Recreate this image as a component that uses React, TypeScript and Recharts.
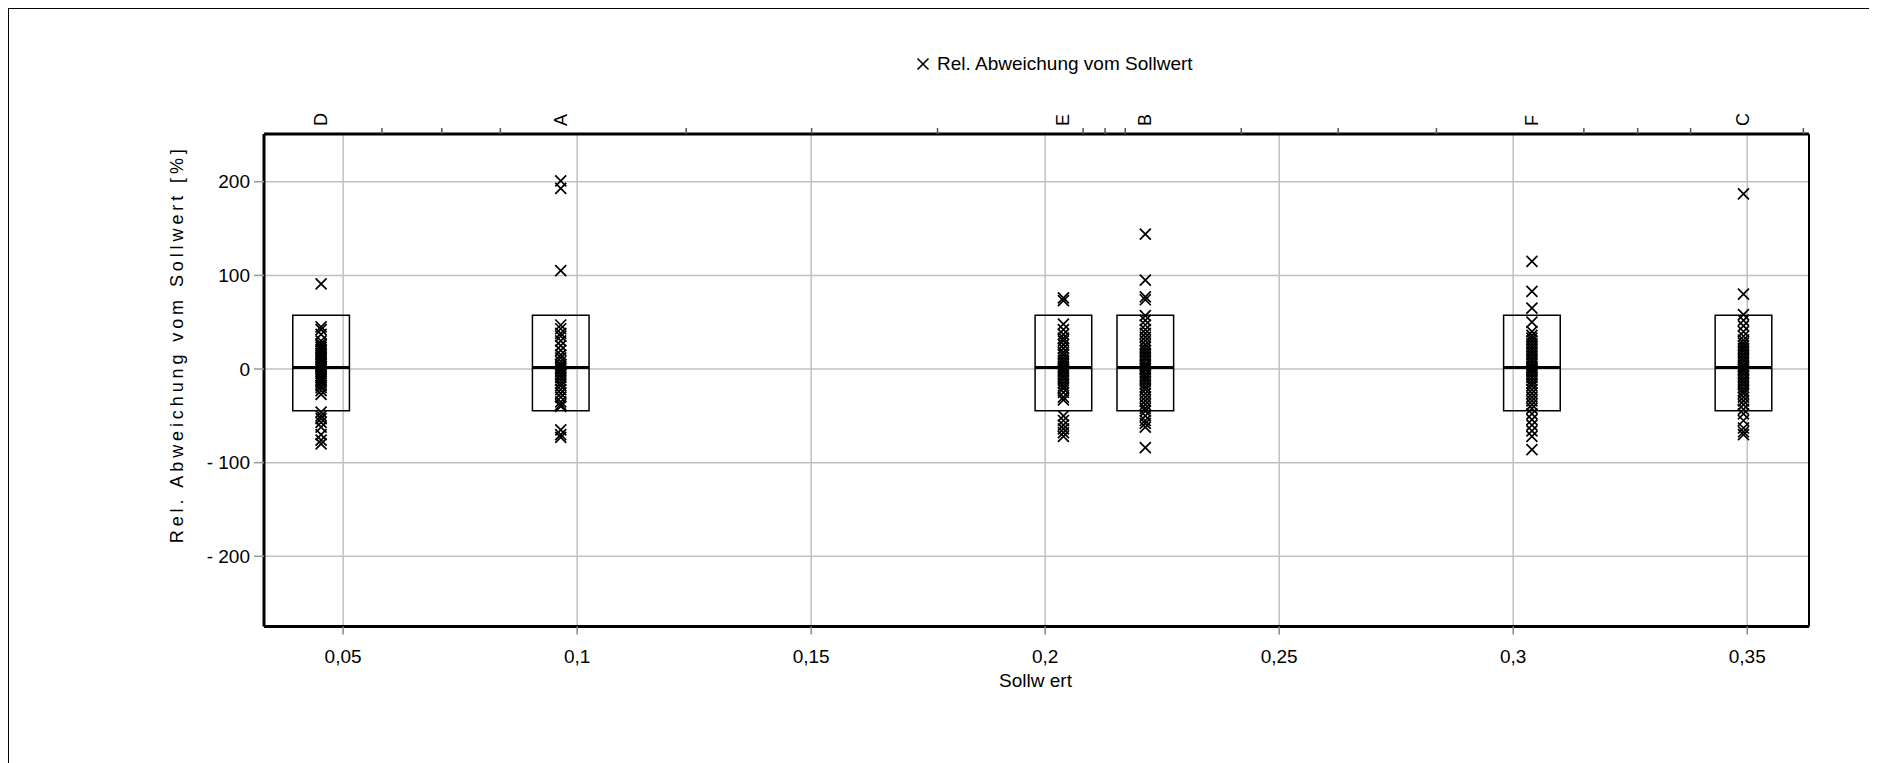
import React from "react";
import {
  ScatterChart,
  Scatter,
  XAxis,
  YAxis,
  CartesianGrid,
  ReferenceArea,
  ReferenceLine,
  Legend,
} from "recharts";

// Categories (samples) and their target values (Sollwert)
const categories = ["D", "A", "E", "B", "F", "C"];
const sollwerte = [0.0453, 0.0965, 0.2039, 0.2214, 0.304, 0.3492];

// Relative deviations [%] per sample
const devD = [91, 45, 42, 37, 30, 27, 25, 23, 21, 19, 17, 15, 13, 12, 10, 8, 6, 5, 3, 2, 0, -1, -3, -5, -7, -9, -11, -13, -15, -18, -20, -23, -27, -46, -50, -53, -57, -62, -70, -76, -80];
const devA = [201, 193, 105, 47, 43, 38, 35, 30, 25, 20, 15, 12, 8, 5, 3, 1, -1, -3, -6, -9, -12, -15, -18, -22, -26, -30, -35, -38, -40, -65, -70, -73];
const devE = [76, 73, 48, 42, 37, 33, 30, 26, 22, 18, 15, 12, 9, 6, 3, 1, -1, -3, -6, -9, -12, -15, -18, -21, -25, -30, -33, -50, -55, -60, -64, -68, -72];
const devB = [144, 95, 77, 74, 57, 52, 47, 42, 38, 34, 30, 26, 23, 20, 17, 14, 11, 8, 5, 3, 1, -1, -4, -7, -10, -13, -16, -19, -22, -26, -30, -34, -38, -42, -45, -50, -55, -58, -62, -84];
const devF = [115, 83, 65, 50, 40, 36, 33, 30, 27, 24, 21, 18, 15, 12, 9, 6, 3, 1, -1, -3, -6, -9, -12, -15, -18, -22, -26, -30, -34, -38, -42, -48, -54, -60, -66, -72, -86];
const devC = [187, 80, 58, 52, 46, 40, 35, 31, 28, 25, 22, 19, 16, 13, 10, 7, 4, 2, 0, -2, -5, -8, -11, -14, -17, -20, -23, -26, -30, -34, -38, -43, -48, -55, -63, -67, -70];
const deviations = [devD, devA, devE, devB, devF, devC];

// Box limits per sample
const boxLower = [-44.5, -44.5, -44.5, -44.5, -44.5, -44.5];
const boxMedian = [1.7, 1.7, 1.7, 1.7, 1.7, 1.7];
const boxUpper = [57.5, 57.5, 57.5, 57.5, 57.5, 57.5];

// Axis ticks
const xTicks = [0.05, 0.1, 0.15, 0.2, 0.25, 0.3, 0.35];
const xTickLabels = ["0,05", "0,1", "0,15", "0,2", "0,25", "0,3", "0,35"];
const yTicks = [200, 100, 0, -100, -200];
const yTickLabels = ["200", "100", "0", "- 100", "- 200"];
const topMinorTicks = [0.0583, 0.0711, 0.0836, 0.1233, 0.1501, 0.177, 0.2081, 0.2128, 0.2171, 0.2419, 0.2626, 0.2836, 0.3151, 0.3266, 0.3379, 0.362];

const X_DOMAIN: [number, number] = [0.0331, 0.3632];
const Y_DOMAIN: [number, number] = [-275, 251];
const BOX_HALF = 0.00605;
const FONT = "'Liberation Sans', Arial, sans-serif";

const points = deviations.flatMap((list, i) =>
  list.map((y) => ({ x: sollwerte[i], y }))
);
const topTicks = [...sollwerte, ...topMinorTicks].sort((a, b) => a - b);

const CrossMark = (props: any) => {
  const { cx, cy } = props;
  const s = 5.5;
  return (
    <path
      d={`M${cx - s},${cy - s}L${cx + s},${cy + s}M${cx - s},${cy + s}L${cx + s},${cy - s}`}
      stroke="#000"
      strokeWidth={1.7}
      fill="none"
    />
  );
};

const TopTick = (props: any) => {
  const { x, y, payload } = props;
  const idx = sollwerte.indexOf(payload.value);
  if (idx >= 0) {
    const ty = y - 8;
    return (
      <text
        x={x}
        y={ty}
        transform={`rotate(-90 ${x} ${ty})`}
        textAnchor="start"
        dominantBaseline="central"
        fontSize={18}
        fontFamily={FONT}
        fill="#000"
      >
        {categories[idx]}
      </text>
    );
  }
  return <line x1={x} x2={x} y1={y - 6} y2={y} stroke="#555" strokeWidth={1.5} />;
};

const LegendContent = () => (
  <div style={{ display: "flex", alignItems: "center", fontFamily: FONT }}>
    <svg width={20} height={20}>
      <path d="M4.5,4.5L15.5,15.5M4.5,15.5L15.5,4.5" stroke="#000" strokeWidth={1.6} />
    </svg>
    <span style={{ marginLeft: 4, fontSize: 19, color: "#000" }}>
      Rel. Abweichung vom Sollwert
    </span>
  </div>
);

export default function App() {
  return (
    <div
      style={{
        width: 1868,
        height: 754,
        borderLeft: "1px solid #000",
        borderTop: "1px solid #000",
        background: "#fff",
        fontFamily: FONT,
      }}
    >
      <ScatterChart
        width={1868}
        height={754}
        margin={{ top: 85, right: 67, bottom: 56.5, left: 185 }}
      >
        <CartesianGrid stroke="#c0c0c0" strokeWidth={1.5} />
        <XAxis
          type="number"
          dataKey="x"
          domain={X_DOMAIN}
          allowDataOverflow
          ticks={xTicks}
          tickFormatter={(v: number) => xTickLabels[xTicks.indexOf(v)]}
          height={80}
          tickSize={8}
          tickMargin={15.5}
          tick={{ fill: "#000", fontSize: 19, fontFamily: FONT }}
          tickLine={{ stroke: "#888", strokeWidth: 1.5 }}
          axisLine={{ stroke: "#000", strokeWidth: 3 }}
          label={{
            content: (p: any) => {
              const vb = p.viewBox;
              return (
                <text
                  x={vb.x + vb.width / 2 - 1}
                  y={vb.y + 54}
                  textAnchor="middle"
                  dominantBaseline="central"
                  fontSize={19}
                  fontFamily={FONT}
                  fill="#000"
                >
                  Sollw ert
                </text>
              );
            },
          }}
        />
        <XAxis
          xAxisId="top"
          orientation="top"
          type="number"
          dataKey="x"
          domain={X_DOMAIN}
          allowDataOverflow
          ticks={topTicks}
          interval={0}
          height={40}
          tickSize={0}
          tickMargin={0}
          tickLine={false}
          tick={<TopTick />}
          axisLine={{ stroke: "#000", strokeWidth: 3 }}
        />
        <YAxis
          type="number"
          dataKey="y"
          domain={Y_DOMAIN}
          allowDataOverflow
          ticks={yTicks}
          tickFormatter={(v: number) => yTickLabels[yTicks.indexOf(v)]}
          width={70}
          tickSize={10}
          tickMargin={4}
          tick={{ fill: "#000", fontSize: 19, fontFamily: FONT }}
          tickLine={{ stroke: "#999", strokeWidth: 1.5 }}
          axisLine={{ stroke: "#000", strokeWidth: 3 }}
          label={{
            content: (p: any) => {
              const vb = p.viewBox;
              const cx = vb.x - 17;
              const cy = vb.y + vb.height / 2 - 36;
              return (
                <text
                  x={cx}
                  y={cy}
                  transform={`rotate(-90 ${cx} ${cy})`}
                  textAnchor="middle"
                  dominantBaseline="central"
                  fontSize={18}
                  letterSpacing={3.9}
                  fontFamily={FONT}
                  fill="#000"
                >
                  Rel. Abweichung vom Sollwert [%]
                </text>
              );
            },
          }}
        />
        <YAxis
          yAxisId="right"
          orientation="right"
          type="number"
          domain={Y_DOMAIN}
          allowDataOverflow
          width={1}
          tick={false}
          tickLine={false}
          axisLine={{ stroke: "#000", strokeWidth: 2 }}
        />
        <Legend
          layout="horizontal"
          verticalAlign="middle"
          align="center"
          wrapperStyle={{ top: 44, left: 904, width: 340, height: 24 }}
          content={<LegendContent />}
        />
        {categories.map((c, i) => (
          <ReferenceArea
            key={`box-${c}`}
            x1={sollwerte[i] - BOX_HALF}
            x2={sollwerte[i] + BOX_HALF}
            y1={boxLower[i]}
            y2={boxUpper[i]}
            stroke="#000"
            strokeWidth={1.5}
            fill="none"
            fillOpacity={0}
            ifOverflow="visible"
          />
        ))}
        {categories.map((c, i) => (
          <ReferenceLine
            key={`med-${c}`}
            segment={[
              { x: sollwerte[i] - BOX_HALF, y: boxMedian[i] },
              { x: sollwerte[i] + BOX_HALF, y: boxMedian[i] },
            ]}
            stroke="#000"
            strokeWidth={3}
            ifOverflow="visible"
          />
        ))}
        <Scatter
          name="Rel. Abweichung vom Sollwert"
          data={points}
          shape={<CrossMark />}
          isAnimationActive={false}
        />
      </ScatterChart>
    </div>
  );
}
